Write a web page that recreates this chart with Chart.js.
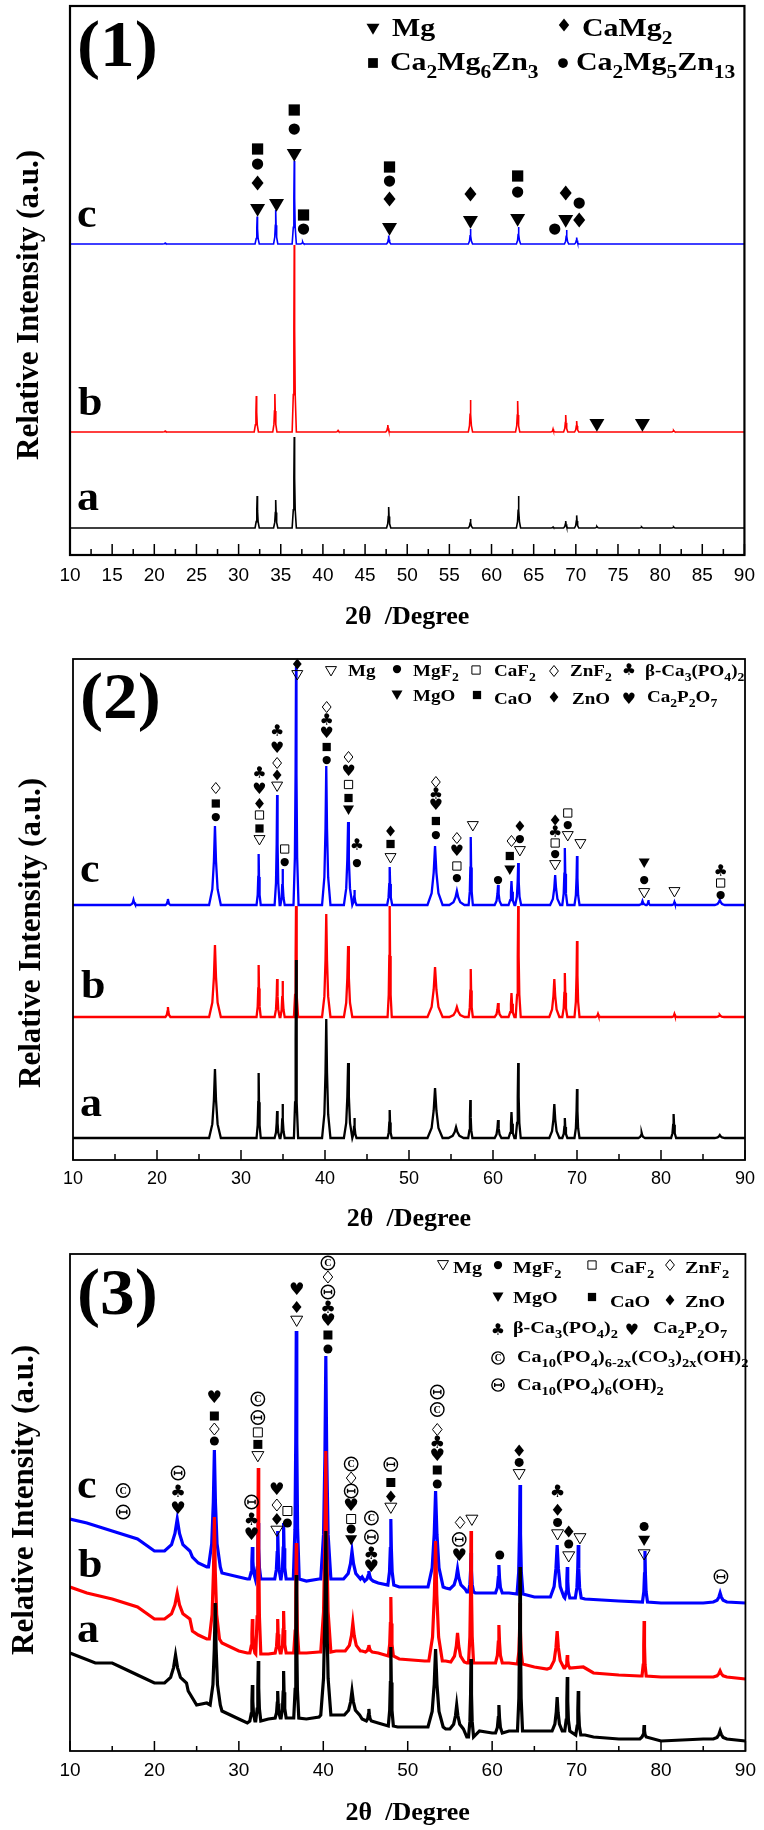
<!DOCTYPE html>
<html>
<head>
<meta charset="utf-8">
<script src="https://cdn.jsdelivr.net/npm/chart.js@4.4.1/dist/chart.umd.min.js"></script>
<style>
body { margin: 0; background: #fff; }
canvas { position: absolute; left: 0; }
</style>
</head>
<body>
<canvas id="p1" width="764" height="640" style="top:0px"></canvas>
<canvas id="p2" width="764" height="596" style="top:640px"></canvas>
<canvas id="p3" width="764" height="594" style="top:1236px"></canvas>
<script>
// x range and tick labels
const xMin = 10, xMax = 90;
const ticks1 = [10, 15, 20, 25, 30, 35, 40, 45, 50, 55, 60, 65, 70, 75, 80, 85, 90];
const minor1 = [12.5, 17.5, 22.5, 27.5, 32.5, 37.5, 42.5, 47.5, 52.5, 57.5, 62.5, 67.5, 72.5, 77.5, 82.5, 87.5];
const ticks23 = [10, 20, 30, 40, 50, 60, 70, 80, 90];
const minor23 = [15, 25, 35, 45, 55, 65, 75, 85];

// (1) alloys: baseline offsets and peaks [2theta, height, half width]
const off1 = { a: 27, b: 123, c: 311 };
const peaks1a = [[32.2, 32, 0.25], [34.4, 28, 0.25], [36.6, 91, 0.25], [47.8, 21, 0.25], [57.5, 9, 0.25], [63.2, 32, 0.25],
  [67.3, 1, 0.25], [68.8, 7, 0.25], [70.1, 12.6, 0.25], [72.5, 1.5, 0.3], [77.8, 1, 0.3], [81.6, 1, 0.3]];
const peaks1b = [[21.3, 1, 0.3], [32.1, 36, 0.25], [34.3, 38, 0.25], [36.6, 187, 0.25], [41.8, 1.5, 0.3], [47.7, 7, 0.25],
  [57.5, 32, 0.25], [63.1, 31, 0.25], [67.3, 3, 0.25], [68.8, 17, 0.25], [70.1, 11, 0.25], [81.6, 1.5, 0.3]];
const peaks1c = [[21.3, 1, 0.3], [32.2, 27.5, 0.25], [34.4, 34, 0.25], [36.6, 83, 0.25], [37.6, 2, 0.25], [47.8, 8.4, 0.25],
  [57.5, 15, 0.25], [63.2, 17, 0.25], [68.9, 14, 0.25], [70.1, 6.5, 0.25]];

// (2)
const off2 = { a: 22, b: 143, c: 255 };
const peaks2a = [[26.9, 69, 0.7], [32.1, 65, 0.25], [34.3, 27, 0.3], [34.95, 34, 0.25], [36.55, 178, 0.25], [40.15, 119, 0.5],
  [42.75, 75, 0.5], [43.5, 20, 0.25], [47.7, 28, 0.25], [53.1, 50, 0.9], [55.6, 11, 0.9], [57.3, 38, 0.25], [60.6, 18, 0.4],
  [62.2, 26, 0.35], [63.0, 75, 0.3], [67.3, 34, 0.6], [68.55, 20, 0.3], [70.0, 49, 0.3], [77.7, 5, 0.4], [81.5, 24, 0.3], [87.0, 3, 0.6]];
const peaks2b = [[21.3, 10, 0.3], [26.9, 72, 0.7], [32.1, 52, 0.25], [34.3, 38, 0.3], [34.95, 36, 0.25], [36.55, 111, 0.25],
  [40.15, 103, 0.5], [42.75, 71, 0.5], [47.7, 111, 0.25], [53.1, 50, 0.9], [55.7, 10, 0.9], [57.35, 48, 0.25], [60.6, 14, 0.4],
  [62.2, 24, 0.35], [63.0, 111, 0.3], [67.3, 38, 0.6], [68.55, 44, 0.3], [70.0, 76, 0.3], [72.5, 3, 0.3], [81.6, 3, 0.3], [87.0, 2, 0.5]];
const peaks2c = [[17.2, 5, 0.4], [21.3, 6, 0.3], [26.9, 79, 0.7], [32.1, 51, 0.25], [34.3, 110, 0.3], [34.95, 36, 0.25],
  [36.55, 238, 0.3], [40.15, 139, 0.5], [42.75, 83, 0.5], [43.5, 15, 0.25], [47.7, 38, 0.3], [53.1, 59, 0.9], [55.7, 14, 0.9],
  [57.35, 68, 0.25], [60.6, 20, 0.4], [62.2, 24, 0.35], [63.0, 42, 0.35], [67.4, 30, 0.6], [68.55, 57, 0.3], [70.0, 49, 0.3],
  [77.8, 4, 0.4], [78.5, 5, 0.2], [81.6, 3, 0.3], [87.0, 5, 0.6]];

// (3) background points [2theta, y] and peaks [2theta, base, top, half width]
const bg3a = [[10, 98], [13, 88], [15, 88], [17, 80], [18, 76], [20, 68], [21, 68], [24, 60], [25, 46], [26.2, 48], [28, 40],
  [30, 32], [31, 28], [33.5, 32], [36, 33], [38, 32], [39.5, 34], [41.5, 36], [44.6, 32], [46.5, 28], [48.8, 24], [52, 24],
  [54.5, 22], [57, 14], [58.5, 20], [60, 18], [62, 20], [65, 20], [66.5, 20], [71, 16], [72, 14], [75, 12], [77.5, 12],
  [80, 10], [85, 12], [90, 10]];
const peaks3a = [[22.5, 68, 96, 1.3], [27.2, 46, 148, 0.6], [31.6, 30, 66, 0.3], [32.3, 30, 90, 0.3], [34.6, 33, 60, 0.3],
  [35.3, 33, 80, 0.3], [36.8, 33, 176, 0.3], [40.3, 36, 220, 0.6], [43.4, 36, 60, 0.9], [45.4, 30, 42, 0.3], [48.0, 25, 104, 0.3],
  [53.3, 24, 102, 0.9], [55.8, 22, 46, 0.8], [57.5, 14, 92, 0.3], [60.8, 18, 46, 0.4], [63.3, 20, 184, 0.3], [67.7, 20, 54, 0.6],
  [68.9, 20, 74, 0.3], [70.2, 16, 60, 0.3], [78.0, 14, 26, 0.25], [87.0, 12, 20, 0.8]];
const bg3b = [[10, 164], [12, 158], [15, 152], [18, 144], [20, 132], [21, 132], [24.5, 120], [25.2, 116], [26.2, 112], [28, 108],
  [30, 100], [31, 98], [33.5, 97], [36, 98], [38, 98], [39.5, 99], [41.5, 100], [44.6, 100], [46.5, 98], [49, 92], [52, 90],
  [54.5, 90], [57, 88], [58, 88], [60, 88], [62, 88], [65, 84], [66.5, 82], [70.8, 84], [72, 78], [75, 76], [77.5, 75],
  [80, 74], [85, 74], [90, 72]];
const peaks3b = [[22.7, 132, 158, 1.5], [27.1, 112, 234, 0.6], [31.6, 98, 132, 0.3], [32.3, 97, 283, 0.3], [34.6, 98, 132, 0.3],
  [35.3, 98, 140, 0.3], [36.8, 98, 208, 0.3], [40.3, 99, 300, 0.6], [43.5, 100, 128, 0.9], [45.4, 99, 106, 0.4], [48.0, 95, 154, 0.3],
  [53.3, 90, 210, 0.8], [55.9, 89, 118, 0.8], [57.5, 88, 220, 0.3], [60.8, 88, 126, 0.4], [63.3, 87, 148, 0.3], [67.7, 83, 120, 0.8],
  [68.9, 83, 96, 0.3], [78.0, 75, 130, 0.25], [87.0, 74, 80, 0.8]];
const bg3c = [[10, 232], [12, 228], [15, 220], [18, 212], [20, 200], [21, 200], [24.5, 194], [25.2, 188], [26.2, 184], [28, 178],
  [30, 174], [31, 172], [33.5, 172], [36, 172], [38, 170], [39.5, 172], [41.5, 172], [44.6, 174], [46.5, 168], [49, 164],
  [52, 164], [54.5, 163], [57, 159], [58, 158], [60, 158], [62, 158], [65, 154], [66.5, 154], [71, 152], [75, 150], [80, 148],
  [85, 148], [90, 148]];
const peaks3c = [[22.7, 200, 232, 1.5], [27.1, 184, 301, 0.7], [31.6, 172, 204, 0.35], [32.3, 172, 228, 0.3], [34.6, 172, 220, 0.35],
  [35.3, 172, 228, 0.3], [36.8, 172, 420, 0.35], [40.3, 172, 395, 0.6], [43.4, 172, 200, 1.0], [45.4, 170, 180, 0.5],
  [48.0, 166, 232, 0.35], [53.3, 164, 260, 0.9], [55.9, 162, 182, 0.9], [57.5, 159, 198, 0.3], [60.8, 158, 186, 0.4],
  [63.3, 157, 266, 0.35], [67.7, 154, 206, 0.8], [68.9, 153, 184, 0.3], [70.2, 153, 206, 0.35], [78.1, 149, 200, 0.3],
  [87.0, 149, 158, 0.8]];

// phase marks [2theta, y, symbol]
const marks1 = [[32.25, 345, 'v'], [32.25, 372, 'd'], [32.25, 391, 'o'], [32.25, 406, 's'], [34.5, 350, 'v'],
  [36.6, 400, 'v'], [36.6, 426, 'o'], [36.6, 445, 's'], [37.7, 326, 'o'], [37.7, 340, 's'],
  [47.9, 326, 'v'], [47.9, 356, 'd'], [47.9, 374, 'o'], [47.9, 388, 's'], [57.5, 333, 'v'], [57.5, 361, 'd'],
  [63.1, 335, 'v'], [63.1, 363, 'o'], [63.1, 379, 's'], [67.5, 326, 'o'], [68.8, 334, 'v'], [68.8, 362, 'd'],
  [70.4, 335, 'd'], [70.4, 352, 'o'], [72.5, 130, 'v'], [77.9, 130, 'v']];
const marks2 = [[27.0, 343, 'o'], [27.0, 356.5, 's'], [27.0, 372, 'D'],
  [32.2, 320, 'V'], [32.2, 331.5, 's'], [32.2, 345, 'S'], [32.2, 356.5, 'd'], [32.2, 370, 'h'], [32.2, 386, 'c'],
  [34.3, 373.5, 'V'], [34.3, 385, 'd'], [34.3, 397, 'D'], [34.3, 411, 'h'], [34.3, 428, 'c'],
  [35.2, 298, 'o'], [35.2, 311, 'S'], [36.7, 485, 'V'], [36.7, 496, 'd'],
  [40.2, 400, 'o'], [40.2, 413, 's'], [40.2, 426, 'h'], [40.2, 439, 'c'], [40.2, 453, 'D'],
  [42.8, 350, 'v'], [42.8, 362, 's'], [42.8, 375.5, 'S'], [42.8, 388, 'h'], [42.8, 403, 'D'],
  [43.8, 297, 'o'], [43.8, 314, 'c'], [47.8, 302, 'V'], [47.8, 316, 's'], [47.8, 329, 'd'],
  [53.2, 325, 'o'], [53.2, 339, 's'], [53.2, 354, 'h'], [53.2, 365, 'c'], [53.2, 378, 'D'],
  [55.7, 282, 'o'], [55.7, 294, 'S'], [55.7, 308, 'h'], [55.7, 322, 'D'], [57.6, 334, 'V'], [60.6, 280, 'o'],
  [62.0, 290, 'v'], [62.0, 304, 's'], [62.2, 319, 'D'], [63.2, 309, 'V'], [63.2, 321, 'o'], [63.2, 334, 'd'],
  [67.4, 295, 'V'], [67.4, 306, 'o'], [67.4, 317, 'S'], [67.4, 327, 'c'], [67.4, 340, 'd'],
  [68.9, 324, 'V'], [68.9, 335, 'o'], [68.9, 347, 'S'], [70.4, 316, 'V'],
  [78.0, 267, 'V'], [78.0, 280, 'o'], [78.0, 297, 'v'], [81.6, 268, 'V'], [87.1, 265, 'o'], [87.1, 277, 'S'], [87.1, 288, 'c']];
const marks3 = [[16.3, 260.5, 'C'], [16.3, 239, 'T'], [22.8, 242, 'h'], [22.8, 259, 'c'], [22.8, 278, 'T'],
  [27.1, 310, 'o'], [27.1, 322, 'D'], [27.1, 335, 's'], [27.1, 353, 'h'],
  [31.5, 216, 'h'], [31.5, 231, 'c'], [31.5, 249, 'T'],
  [32.25, 294.6, 'V'], [32.25, 306.6, 's'], [32.25, 318.6, 'S'], [32.25, 333.5, 'T'], [32.25, 352, 'C'],
  [34.5, 220, 'V'], [34.5, 232, 'd'], [34.5, 246, 'D'], [34.5, 261, 'h'], [35.75, 228, 'o'], [35.75, 240, 'S'],
  [36.85, 430, 'V'], [36.85, 444, 'd'], [36.85, 461, 'h'],
  [40.55, 402, 'o'], [40.55, 416, 's'], [40.55, 430, 'h'], [40.55, 443, 'c'], [40.55, 459, 'T'], [40.55, 474, 'D'], [40.55, 488, 'C'],
  [43.3, 211, 'v'], [43.3, 222, 'o'], [43.3, 232, 'S'], [43.3, 244.5, 'h'], [43.3, 260, 'T'], [43.3, 273, 'D'], [43.3, 287, 'C'],
  [45.7, 183.6, 'h'], [45.7, 197, 'c'], [45.7, 214, 'T'], [45.7, 233, 'C'],
  [48.0, 243, 'V'], [48.0, 254.5, 'd'], [48.0, 268.5, 's'], [48.0, 286.6, 'T'],
  [53.5, 267, 'o'], [53.5, 281, 's'], [53.5, 294.6, 'h'], [53.5, 308, 'c'], [53.5, 321.5, 'D'], [53.5, 341.5, 'C'], [53.5, 359, 'T'],
  [56.1, 194.4, 'h'], [56.1, 211.6, 'T'], [56.2, 228.5, 'D'], [57.6, 231, 'V'], [60.9, 196, 'o'],
  [63.2, 276.6, 'V'], [63.2, 288.6, 'o'], [63.2, 300.6, 'd'],
  [67.75, 216.4, 'V'], [67.75, 228.5, 'o'], [67.75, 241.3, 'd'], [67.75, 258.5, 'c'],
  [69.07, 194.4, 'V'], [69.07, 207, 'o'], [69.07, 219.6, 'd'], [70.4, 212.5, 'V'],
  [78.0, 196.4, 'V'], [78.0, 210.4, 'v'], [78.0, 224.5, 'o'], [87.1, 174.4, 'T']];

const peakShape = [[-1, 0], [-0.45, 0.2], [-0.18, 0.55], [0, 1], [0.18, 0.55], [0.45, 0.2], [1, 0]];

function flatTrace(offset, peaks) {
  const pts = [{ x: xMin, y: offset }];
  peaks.forEach(([c, h, w]) => peakShape.forEach(([dx, f]) => pts.push({ x: c + dx * w, y: offset + f * h })));
  pts.push({ x: xMax, y: offset });
  return pts;
}

function curvedTrace(bg, peaks) {
  const pts = bg.filter(([x]) => !peaks.some(([c, , , w]) => Math.abs(x - c) < w)).map(([x, y]) => ({ x, y }));
  peaks.forEach(([c, base, top, w]) => peakShape.forEach(([dx, f]) => pts.push({ x: c + dx * w, y: base + f * (top - base) })));
  return pts.sort((p, q) => p.x - q.x);
}

const SERIF = '"Liberation Serif", "Times New Roman", serif';

function sym(ctx, t, x, y, s) {
  const h = s / 2;
  ctx.save();
  ctx.fillStyle = '#000';
  ctx.strokeStyle = '#000';
  ctx.lineWidth = 1;
  ctx.beginPath();
  if (t === 'v' || t === 'V') {
    ctx.moveTo(x - h, y - h * 0.8);
    ctx.lineTo(x + h, y - h * 0.8);
    ctx.lineTo(x, y + h * 0.9);
    ctx.closePath();
    t === 'v' ? ctx.fill() : ctx.stroke();
  } else if (t === 'd' || t === 'D') {
    ctx.moveTo(x, y - h);
    ctx.lineTo(x + h * 0.8, y);
    ctx.lineTo(x, y + h);
    ctx.lineTo(x - h * 0.8, y);
    ctx.closePath();
    t === 'd' ? ctx.fill() : ctx.stroke();
  } else if (t === 's' || t === 'S') {
    const a = h * 0.75;
    ctx.rect(x - a, y - a, 2 * a, 2 * a);
    t === 's' ? ctx.fill() : ctx.stroke();
  } else if (t === 'o') {
    ctx.arc(x, y, h * 0.75, 0, Math.PI * 2);
    ctx.fill();
  } else if (t === 'c' || t === 'h') {
    ctx.font = (s * 1.45) + 'px "DejaVu Sans"';
    ctx.textAlign = 'center';
    ctx.textBaseline = 'middle';
    ctx.fillText(t === 'c' ? '\u2663' : '\u2665', x, y);
  } else if (t === 'C') {
    ctx.lineWidth = 1.4;
    ctx.arc(x, y, s * 0.56, 0, Math.PI * 2);
    ctx.stroke();
    ctx.font = 'bold ' + (s * 0.85) + 'px ' + SERIF;
    ctx.textAlign = 'center';
    ctx.textBaseline = 'middle';
    ctx.fillText('C', x, y + 0.5);
  } else if (t === 'T') {
    ctx.lineWidth = 1.4;
    ctx.arc(x, y, s * 0.56, 0, Math.PI * 2);
    ctx.moveTo(x - s * 0.3, y);
    ctx.lineTo(x + s * 0.3, y);
    ctx.moveTo(x - s * 0.3, y - s * 0.18);
    ctx.lineTo(x - s * 0.3, y + s * 0.18);
    ctx.moveTo(x + s * 0.3, y - s * 0.18);
    ctx.lineTo(x + s * 0.3, y + s * 0.18);
    ctx.stroke();
  }
  ctx.restore();
}

// bold serif text with _{subscripts}, horizontally stretched by sx
function rich(ctx, str, x, y, size, sx) {
  ctx.save();
  ctx.translate(x, y);
  ctx.scale(sx, 1);
  ctx.fillStyle = '#000';
  ctx.textAlign = 'left';
  ctx.textBaseline = 'alphabetic';
  let cx = 0;
  str.split(/(_\{[^}]*\})/).forEach(part => {
    if (!part) return;
    const sub = part.startsWith('_{');
    const t = sub ? part.slice(2, -1) : part;
    ctx.font = 'bold ' + (sub ? size * 0.72 : size) + 'px ' + SERIF;
    ctx.fillText(t, cx, sub ? size * 0.3 : 0);
    cx += ctx.measureText(t).width;
  });
  ctx.restore();
}

function decor(p) {
  return {
    id: 'decor',
    afterDraw(chart) {
      const { ctx, chartArea: a, scales: { x, y } } = chart;
      ctx.save();
      ctx.strokeStyle = '#000';
      ctx.lineWidth = p.frame;
      ctx.strokeRect(a.left, a.top, a.right - a.left, a.bottom - a.top);
      ctx.lineWidth = 1.5;
      ctx.beginPath();
      p.ticks.forEach(v => {
        const px = x.getPixelForValue(v);
        ctx.moveTo(px, a.bottom);
        ctx.lineTo(px, a.bottom - p.major);
      });
      p.minor.forEach(v => {
        const px = x.getPixelForValue(v);
        ctx.moveTo(px, a.bottom);
        ctx.lineTo(px, a.bottom - p.minorLen);
      });
      ctx.stroke();
      p.marks.forEach(([d, v, t]) => sym(ctx, t, x.getPixelForValue(d), y.getPixelForValue(v), p.symSize));
      p.legend.forEach(([sx, sy, t, tx, ty, text]) => {
        sym(ctx, t, sx, sy, p.legSym);
        rich(ctx, text, tx, ty, p.legFont, p.stretch);
      });
      rich(ctx, p.label, p.labelPos[0], p.labelPos[1], 66, 1.05);
      p.letters.forEach(([t, lx, ly]) => rich(ctx, t, lx, ly, 40, 1.1));
      ctx.translate(p.yTitle[0], p.yTitle[1]);
      ctx.rotate(-Math.PI / 2);
      ctx.font = 'bold 31px ' + SERIF;
      ctx.fillStyle = '#000';
      ctx.textAlign = 'center';
      ctx.textBaseline = 'middle';
      ctx.fillText('Relative Intensity (a.u.)', 0, 0);
      ctx.restore();
    }
  };
}

function makeChart(id, series, p) {
  const colors = ['#000000', '#ff0000', '#0000ff'];
  new Chart(document.getElementById(id), {
    type: 'line',
    data: {
      datasets: series.map((d, i) => ({
        data: d,
        borderColor: colors[i],
        borderWidth: p.lineW,
        pointRadius: 0,
        tension: 0,
        fill: false
      }))
    },
    options: {
      responsive: false,
      animation: false,
      devicePixelRatio: 1,
      layout: { padding: { top: p.top, right: p.right, left: 0, bottom: 0 } },
      plugins: { legend: { display: false }, tooltip: { enabled: false } },
      scales: {
        x: {
          type: 'linear', min: xMin, max: xMax,
          afterBuildTicks: s => { s.ticks = p.ticks.map(v => ({ value: v })); },
          afterFit: s => { s.height = p.axH; },
          grid: { display: false, drawTicks: false },
          border: { display: false },
          ticks: { autoSkip: false, maxRotation: 0, padding: p.tickPad, color: '#000',
                   font: { family: '"Liberation Sans", Arial, sans-serif', size: p.tickFont } },
          title: { display: true, text: '2\u03b8  /Degree', color: '#000',
                   font: { family: SERIF, size: 26, weight: 'bold' }, padding: { top: 0, bottom: p.titlePad } }
        },
        y: {
          min: 0, max: p.yMax,
          afterFit: s => { s.width = p.left; },
          ticks: { display: false },
          grid: { display: false },
          border: { display: false }
        }
      }
    },
    plugins: [decor(p)]
  });
}

makeChart('p1', [flatTrace(off1.a, peaks1a), flatTrace(off1.b, peaks1b), flatTrace(off1.c, peaks1c)], {
  top: 6, right: 18, left: 70, axH: 85, yMax: 549, lineW: 1.6, frame: 2.2,
  tickPad: 9, tickFont: 19, titlePad: 7, ticks: ticks1, minor: minor1, major: 11, minorLen: 6,
  marks: marks1, symSize: 15, legSym: 13, legFont: 26, stretch: 1.15,
  legend: [[373, 29, 'v', 392, 36, 'Mg'], [564, 25, 'd', 582, 36, 'CaMg_{2}'],
           [373, 63, 's', 390, 70, 'Ca_{2}Mg_{6}Zn_{3}'], [563, 63, 'o', 576, 70, 'Ca_{2}Mg_{5}Zn_{13}']],
  label: '(1)', labelPos: [77, 66],
  letters: [['c', 77, 227], ['b', 78, 415], ['a', 77, 510]],
  yTitle: [30, 305]
});

makeChart('p2', [flatTrace(off2.a, peaks2a), flatTrace(off2.b, peaks2b), flatTrace(off2.c, peaks2c)], {
  top: 19, right: 19, left: 73, axH: 76, yMax: 501, lineW: 2.3, frame: 1.8,
  tickPad: 8, tickFont: 18, titlePad: 1, ticks: ticks23, minor: minor23, major: 10, minorLen: 6,
  marks: marks2, symSize: 11, legSym: 11, legFont: 17, stretch: 1.12,
  legend: [[331, 31, 'V', 348, 36, 'Mg'], [397, 29, 'o', 413, 36, 'MgF_{2}'], [476, 30, 'S', 494, 36, 'CaF_{2}'],
           [554, 31, 'D', 570, 36, 'ZnF_{2}'], [629, 31, 'c', 645, 36, '\u03b2-Ca_{3}(PO_{4})_{2}'],
           [397, 55, 'v', 413, 61, 'MgO'], [477, 55, 's', 494, 64, 'CaO'], [554, 57, 'd', 572, 64, 'ZnO'],
           [629, 60, 'h', 647, 62, 'Ca_{2}P_{2}O_{7}']],
  label: '(2)', labelPos: [80, 78],
  letters: [['c', 80, 242], ['b', 81, 358], ['a', 80, 476]],
  yTitle: [32, 293]
});

makeChart('p3', [curvedTrace(bg3a, peaks3a), curvedTrace(bg3b, peaks3b), curvedTrace(bg3c, peaks3c)], {
  top: 18, right: 12, left: 70, axH: 79, yMax: 497, lineW: 3.2, frame: 1.8,
  tickPad: 8, tickFont: 19, titlePad: 1, ticks: ticks23, minor: minor23, major: 10, minorLen: 5,
  marks: marks3, symSize: 12, legSym: 11, legFont: 17.5, stretch: 1.15,
  legend: [[443, 29, 'V', 453, 37, 'Mg'], [498, 29, 'o', 513, 37, 'MgF_{2}'], [592, 29, 'S', 610, 37, 'CaF_{2}'],
           [670, 29, 'D', 685, 37, 'ZnF_{2}'], [498, 61, 'v', 513, 67, 'MgO'], [592, 61, 's', 610, 71, 'CaO'],
           [670, 64, 'd', 685, 71, 'ZnO'], [498, 95, 'c', 513, 97, '\u03b2-Ca_{3}(PO_{4})_{2}'],
           [632, 95, 'h', 653, 97, 'Ca_{2}P_{2}O_{7}'],
           [498, 122, 'C', 517, 126, 'Ca_{10}(PO_{4})_{6-2x}(CO_{3})_{2x}(OH)_{2}'],
           [498, 149, 'T', 517, 154, 'Ca_{10}(PO_{4})_{6}(OH)_{2}']],
  label: '(3)', labelPos: [77, 78],
  letters: [['c', 77, 262], ['b', 78, 341], ['a', 77, 406]],
  yTitle: [25, 264]
});
</script>
</body>
</html>
